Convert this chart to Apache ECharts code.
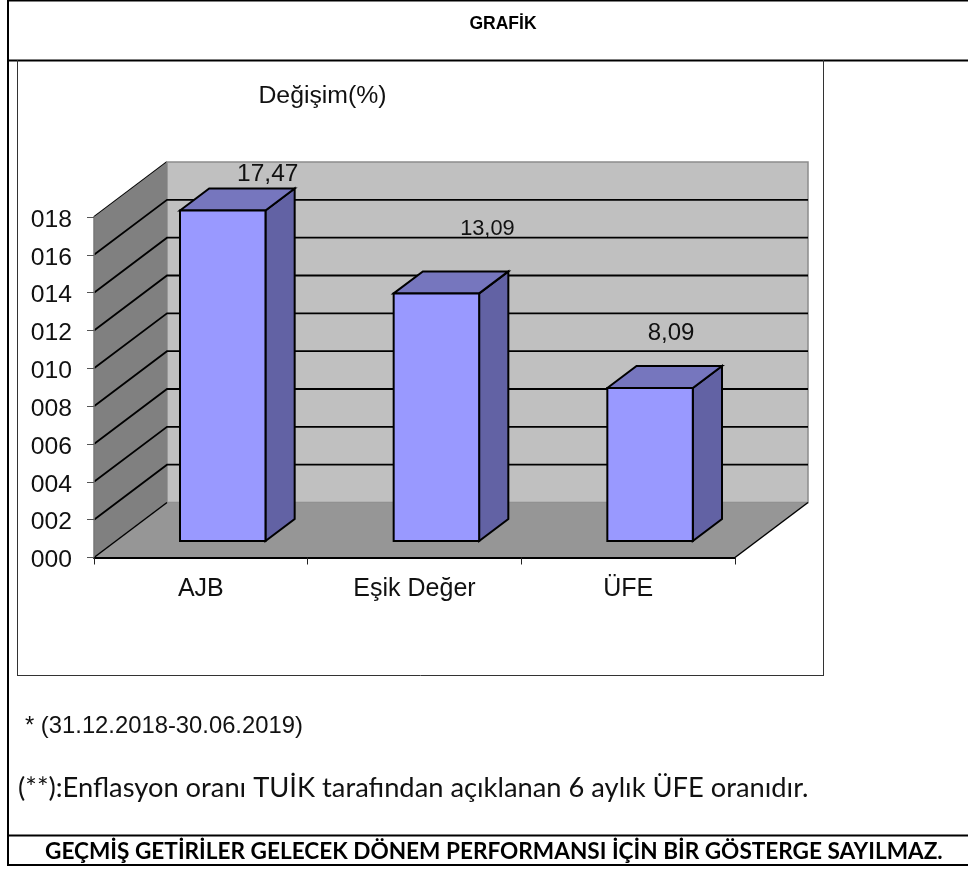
<!DOCTYPE html>
<html>
<head>
<meta charset="utf-8">
<style>html,body{margin:0;padding:0;background:#fff}#main{width:968px;height:870px}</style>
<script src="https://cdn.jsdelivr.net/npm/echarts@6/dist/echarts.min.js"></script>
</head>
<body>
<div id="main"></div>
<script>
var categories = ['AJB', 'Eşik Değer', 'ÜFE'];
var degisim = [17.47, 13.09, 8.09];
var degisimText = ['17,47', '13,09', '8,09'];
var gridValues = [2, 4, 6, 8, 10, 12, 14, 16, 18];

// the labels were moved by hand in the original, so they do not sit on the bars
var labelNudge = [[45, -36, 24.5], [51, -64, 21.8], [21, -55, 24]];

var depthX = 73, depthY = -55;
var sans = '"Liberation Sans", Arial, sans-serif';

function poly(points, fill, stroke, width) {
  return {
    type: 'polygon',
    shape: { points: points },
    style: { fill: fill, stroke: stroke || null, lineWidth: width || 0, lineJoin: 'miter' }
  };
}

function renderWalls(params, api) {
  var c = params.coordSys;
  var l = c.x, r = c.x + c.width, t = c.y, b = c.y + c.height;
  return {
    type: 'group',
    children: [
      poly([[l + depthX, t + depthY], [r + depthX, t + depthY], [r + depthX, b + depthY], [l + depthX, b + depthY]], '#c0c0c0', '#8c8c8c', 1.5),
      poly([[l, t], [l + depthX, t + depthY], [l + depthX, b + depthY], [l, b]], '#808080'),
      poly([[l, b], [l + depthX, b + depthY], [r + depthX, b + depthY], [r, b]], '#969696'),
      { type: 'line', shape: { x1: l, y1: b, x2: l + depthX, y2: b + depthY }, style: { stroke: '#000', lineWidth: 1.5 } },
      { type: 'line', shape: { x1: r, y1: b, x2: r + depthX, y2: b + depthY }, style: { stroke: '#000', lineWidth: 1.5 } }
    ]
  };
}

function renderGridLine(params, api) {
  var c = params.coordSys;
  var y = api.coord([0, api.value(0)])[1];
  var l = c.x, r = c.x + c.width;
  return {
    type: 'polyline',
    shape: { points: [[l, y], [l + depthX, y + depthY], [r + depthX, y + depthY]] },
    style: { stroke: '#000', lineWidth: 1.8, fill: null },
    silent: true,
    z2: 1
  };
}

function renderLabel(params, api) {
  var i = api.value(0);
  var p = api.coord([i, api.value(1)]);
  var n = labelNudge[i];
  return {
    type: 'text',
    style: {
      text: degisimText[i],
      x: p[0] + depthX * 0.3 + n[0],
      y: p[1] + depthY * 0.3 + n[1],
      font: n[2] + 'px ' + sans,
      fill: '#111',
      textAlign: 'center',
      textVerticalAlign: 'middle'
    }
  };
}

function renderBar(params, api) {
  var i = api.value(0);
  var top = api.coord([i, api.value(1)]);
  var base = api.coord([i, 0]);
  var w = api.size([1, 0])[0] * 0.4;
  var x0 = top[0] - w / 2 + depthX * 0.3, x1 = x0 + w;
  var y0 = top[1] + depthY * 0.3, y1 = base[1] + depthY * 0.3;
  var dx = depthX * 0.4, dy = depthY * 0.4;
  return {
    type: 'group',
    children: [
      poly([[x1, y0], [x1 + dx, y0 + dy], [x1 + dx, y1 + dy], [x1, y1]], '#6262a4', '#000', 2),
      poly([[x0, y0], [x0 + dx, y0 + dy], [x1 + dx, y0 + dy], [x1, y0]], '#7676be', '#000', 2),
      poly([[x0, y0], [x1, y0], [x1, y1], [x0, y1]], '#9999ff', '#000', 2)
    ]
  };
}

function frameLine(x1, y1, x2, y2, color, width) {
  return {
    type: 'line',
    shape: { x1: x1, y1: y1, x2: x2, y2: y2 },
    style: { stroke: color, lineWidth: width }
  };
}

function note(text, x, y, font, align, fill) {
  return {
    type: 'text',
    x: x,
    y: y,
    style: { text: text, font: font, fill: fill || '#111', textAlign: align || 'left', textVerticalAlign: 'middle' }
  };
}

var myChart = echarts.init(document.getElementById('main'), null, { renderer: 'canvas' });

var option = {
  animation: false,
  backgroundColor: '#fff',
  grid: { left: 94, top: 217, width: 641, height: 340.5 },
  xAxis: {
    type: 'category',
    data: categories,
    z: 5,
    axisLine: { lineStyle: { color: '#000', width: 2 } },
    axisTick: { show: true, length: 7, lineStyle: { color: '#222', width: 1 } },
    axisLabel: { color: '#111', fontFamily: sans, fontSize: 25, margin: 19, interval: 0 }
  },
  yAxis: {
    type: 'value',
    min: 0,
    max: 18,
    interval: 2,
    z: 5,
    axisLine: { show: true, lineStyle: { color: '#777', width: 1.5 } },
    axisTick: { show: true, length: 7, lineStyle: { color: '#555', width: 1 } },
    axisLabel: {
      color: '#111',
      fontFamily: sans,
      fontSize: 24.7,
      margin: 22,
      verticalAlign: 'top',
      lineHeight: 6,
      formatter: function (v) { return String(v).padStart(3, '0'); }
    },
    splitLine: { show: false }
  },
  series: [
    { name: 'duvar', type: 'custom', z: 1, clip: false, silent: true, data: [0], renderItem: renderWalls },
    {
      name: 'etiket',
      type: 'custom',
      z: 2,
      clip: false,
      silent: true,
      data: degisim.map(function (v, i) { return [i, v]; }),
      renderItem: renderLabel
    },
    { name: 'kılavuz', type: 'custom', z: 3, clip: false, silent: true, data: gridValues.slice(0, -1).map(function (v) { return [v]; }), renderItem: renderGridLine },
    {
      name: 'Değişim(%)',
      type: 'custom',
      z: 4,
      clip: false,
      data: degisim.map(function (v, i) { return [i, v]; }),
      renderItem: renderBar
    }
  ],
  graphic: {
    elements: [
      frameLine(8, 0, 8, 866, '#000', 2),
      frameLine(8, 0.5, 968, 0.5, '#000', 2),
      frameLine(8, 60.5, 968, 60.5, '#000', 2),
      frameLine(17.5, 60, 17.5, 676, '#333', 1),
      frameLine(17, 675.5, 824, 675.5, '#333', 1),
      frameLine(823.5, 60, 823.5, 676, '#333', 1),
      frameLine(8, 835.5, 968, 835.5, '#000', 2),
      frameLine(8, 865, 968, 865, '#000', 2),
      // the top diagonal of the side wall is black, the rest of that edge is grey
      frameLine(94, 217, 167, 162, '#000', 1.8),
      note('GRAFİK', 503, 24, 'bold 17.5px ' + sans, 'center', '#000'),
      note('Değişim(%)', 322.5, 96, '24.8px ' + sans, 'center'),
      note('* (31.12.2018-30.06.2019)', 25, 726, '23.8px ' + sans),
      note('(**):Enflasyon oranı TUİK tarafından açıklanan 6 aylık ÜFE oranıdır.', 18, 788, '27.3px Lato, "Noto Sans", sans-serif'),
      note('GEÇMİŞ GETİRİLER GELECEK DÖNEM PERFORMANSI İÇİN BİR GÖSTERGE SAYILMAZ.', 45, 852, 'bold 22.6px Lato, "Noto Sans", sans-serif', 'left', '#000')
    ]
  }
};

option && myChart.setOption(option);
</script>
</body>
</html>
